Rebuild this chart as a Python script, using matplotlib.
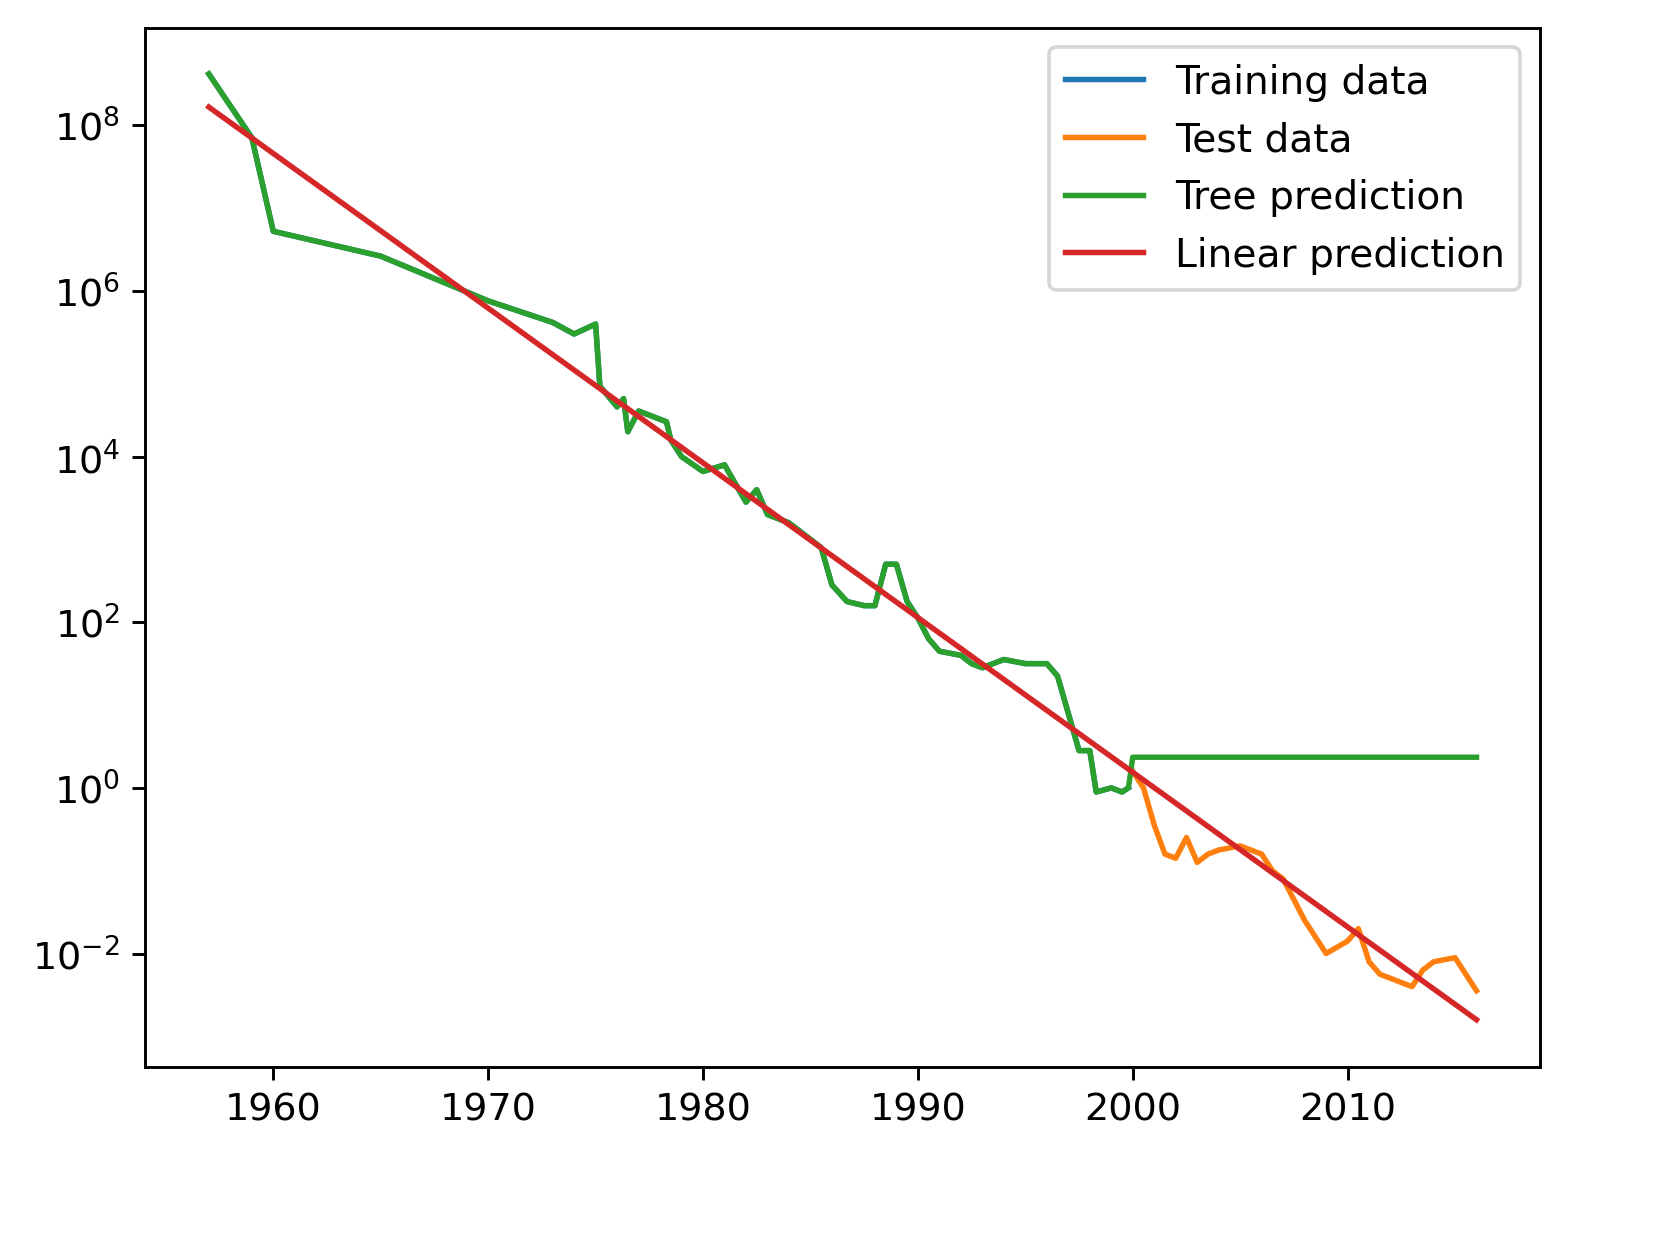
import numpy as np
import matplotlib
matplotlib.use("Agg")
import matplotlib.pyplot as plt

train_years = [1957, 1959, 1960, 1965, 1970, 1973, 1974, 1975, 1975.2, 1976, 1976.3, 1976.5,
               1977, 1978.3, 1978.5, 1979, 1980, 1981, 1982, 1982.5, 1983, 1984, 1984.5,
               1985.5, 1986, 1986.7, 1987.5, 1988, 1988.5, 1989, 1989.5, 1990, 1990.5, 1991,
               1992, 1992.5, 1993, 1994, 1995, 1996, 1996.5, 1997, 1997.5, 1998, 1998.3, 1999,
               1999.5, 1999.8]
train_log = [8.62, 7.85, 6.72, 6.42, 5.88, 5.62, 5.48, 5.6, 4.85, 4.6, 4.7, 4.3,
             4.55, 4.42, 4.2, 4.0, 3.82, 3.9, 3.45, 3.6, 3.3, 3.2, 3.1,
             2.9, 2.45, 2.25, 2.2, 2.2, 2.7, 2.7, 2.25, 2.05, 1.8, 1.65,
             1.6, 1.5, 1.45, 1.55, 1.5, 1.5, 1.35, 0.9, 0.45, 0.45, -0.05, 0.0,
             -0.05, 0.0]
test_years = [2000, 2000.5, 2001, 2001.5, 2002, 2002.5, 2003, 2003.5, 2004, 2005, 2006,
              2006.5, 2007, 2008, 2009, 2010, 2010.5, 2011, 2011.5, 2012, 2013, 2013.5,
              2014, 2015, 2016]
test_log = [0.2, 0.0, -0.45, -0.8, -0.85, -0.6, -0.9, -0.8, -0.75, -0.7, -0.8,
            -1.0, -1.1, -1.6, -2.0, -1.85, -1.7, -2.1, -2.25, -2.3, -2.4, -2.2,
            -2.1, -2.05, -2.45]
tree_const_log = 0.37
lin_start, lin_end = 8.22, -2.8

train_y = 10 ** np.array(train_log)
test_y = 10 ** np.array(test_log)
all_years = np.array(train_years + test_years)
tree_y = np.concatenate([train_y, np.full(len(test_years), 10 ** tree_const_log)])
tree_x = np.concatenate([train_years, [2000.0], test_years[1:]])
lin_y = 10 ** np.interp(all_years, [1957, 2016], [lin_start, lin_end])

fig = plt.figure(figsize=(6.4, 4.745), dpi=261.25)
ax = fig.add_axes([0.087, 0.139, 0.834, 0.838])
ax.semilogy(train_years, train_y, label="Training data")
ax.semilogy(test_years, test_y, label="Test data")
ax.semilogy(tree_x, tree_y, label="Tree prediction")
ax.semilogy(all_years, lin_y, label="Linear prediction")
ax.set_ylim(4.3e-4, 1.5e9)
ax.tick_params(labelsize=10.5)
ax.legend(fontsize=10.8)
fig.savefig("out.png")
